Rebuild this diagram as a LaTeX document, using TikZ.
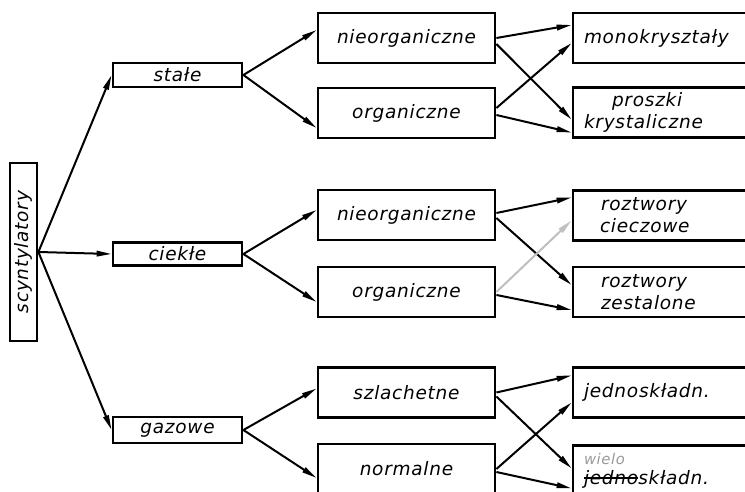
\documentclass[tikz,border=0pt]{standalone}
\usepackage{fontspec}
\newfontfamily\pismo[LetterSpace=4]{DejaVu Sans}
\usetikzlibrary{arrows.meta, calc}
\newcommand\przekresl[1]{{\setbox0\hbox{#1}\rlap{\rule[0.3em]{\wd0}{1.2pt}}\box0}}

\begin{document}
\begin{tikzpicture}[x=1pt, y=-1pt, font=\pismo\itshape\fontsize{18.5pt}{22pt}\selectfont,
	box/.style={draw, line width=2.8pt, inner sep=0pt},
	box2/.style={box, minimum width=177pt, minimum height=50pt},
	box3/.style={box, text width=180pt, align=left, inner xsep=11pt, minimum height=50pt},
	strz/.style={line width=2pt, -{Triangle[length=15pt, width=5.5pt]}}]
	\useasboundingbox (0,0) rectangle (745,492);
	% scyntylatory
	\node[box, rotate=90, minimum width=178pt, minimum height=27pt] (scynt) at (23.5,252) {scyntylatory};
	% stan skupienia
	\node[box, minimum width=129pt, minimum height=24pt] (stale) at (177.5,75) {stałe};
	\node[box, minimum width=129pt, minimum height=23pt] (ciekle) at (177.5,254) {ciekłe};
	\node[box, minimum width=129pt, minimum height=26pt] (gazowe) at (177.5,430) {gazowe};
	% rodzaj
	\node[box2] (nieorg1) at (406.5,38) {nieorganiczne};
	\node[box2] (org1) at (406.5,113) {organiczne};
	\node[box2] (nieorg2) at (406.5,215) {nieorganiczne};
	\node[box2] (org2) at (406.5,292) {organiczne};
	\node[box2] (szlach) at (406.5,392.5) {szlachetne};
	\node[box2] (normal) at (406.5,469) {normalne};
	% postac
	\node[box3] (mono) at (674,38) {monokryształy};
	\node[box3] (proszki) at (674,112.5) {\hspace*{28pt}proszki\\krystaliczne};
	\node[box3] (ciecz) at (674,215.5) {\hspace*{17pt}roztwory\\\hspace*{16pt}cieczowe};
	\node[box3] (zest) at (674,292) {\hspace*{17pt}roztwory\\\hspace*{17pt}zestalone};
	\node[box3] (jedno) at (674,392.5) {jednoskładn.};
	\node[box3, anchor=north] (wielo) at (674,444) {\rlap{\raisebox{20pt}{\color{gray!80}\scalebox{0.8}{wielo}}}\przekresl{jedno}składn.};

	\draw[strz] (scynt.south) -- (stale.west);
	\draw[strz] (scynt.south) -- (ciekle.west);
	\draw[strz] (scynt.south) -- (gazowe.west);

	\draw[strz] (stale.east) -- ([yshift=8pt]nieorg1.west);
	\draw[strz] (stale.east) -- ([yshift=-15pt]org1.west);
	\draw[strz] (ciekle.east) -- ([yshift=5pt]nieorg2.west);
	\draw[strz] (ciekle.east) -- ([yshift=-10pt]org2.west);
	\draw[strz] (gazowe.east) -- ([yshift=4pt]szlach.west);
	\draw[strz] (gazowe.east) -- ([yshift=-9pt]normal.west);

	\draw[strz] (nieorg1.east) -- ([yshift=13pt]mono.west);
	\draw[strz] ([yshift=-6pt]nieorg1.east) -- ([yshift=-7pt]proszki.west);
	\draw[strz] ([yshift=5pt]org1.east) -- ([yshift=-5pt]mono.west);
	\draw[strz] ([yshift=-2pt]org1.east) -- ([yshift=-20pt]proszki.west);
	\draw[strz] ([yshift=2pt]nieorg2.east) -- ([yshift=18pt]ciecz.west);
	\draw[strz] ([yshift=-3pt]nieorg2.east) -- ([yshift=7pt]zest.west);
	\draw[strz, gray!50] (org2.east) -- ([yshift=-5pt]ciecz.west);
	\draw[strz] ([yshift=-3pt]org2.east) -- ([yshift=-18pt]zest.west);
	\draw[strz] (szlach.east) -- ([yshift=17pt]jedno.west);
	\draw[strz] ([yshift=-4pt]szlach.east) -- ([yshift=2pt]wielo.west);
	\draw[strz] (normal.east) -- ([yshift=-10pt]jedno.west);
	\draw[strz] ([yshift=-3pt]normal.east) -- ([yshift=-18pt]wielo.west);

\end{tikzpicture}
\end{document}
